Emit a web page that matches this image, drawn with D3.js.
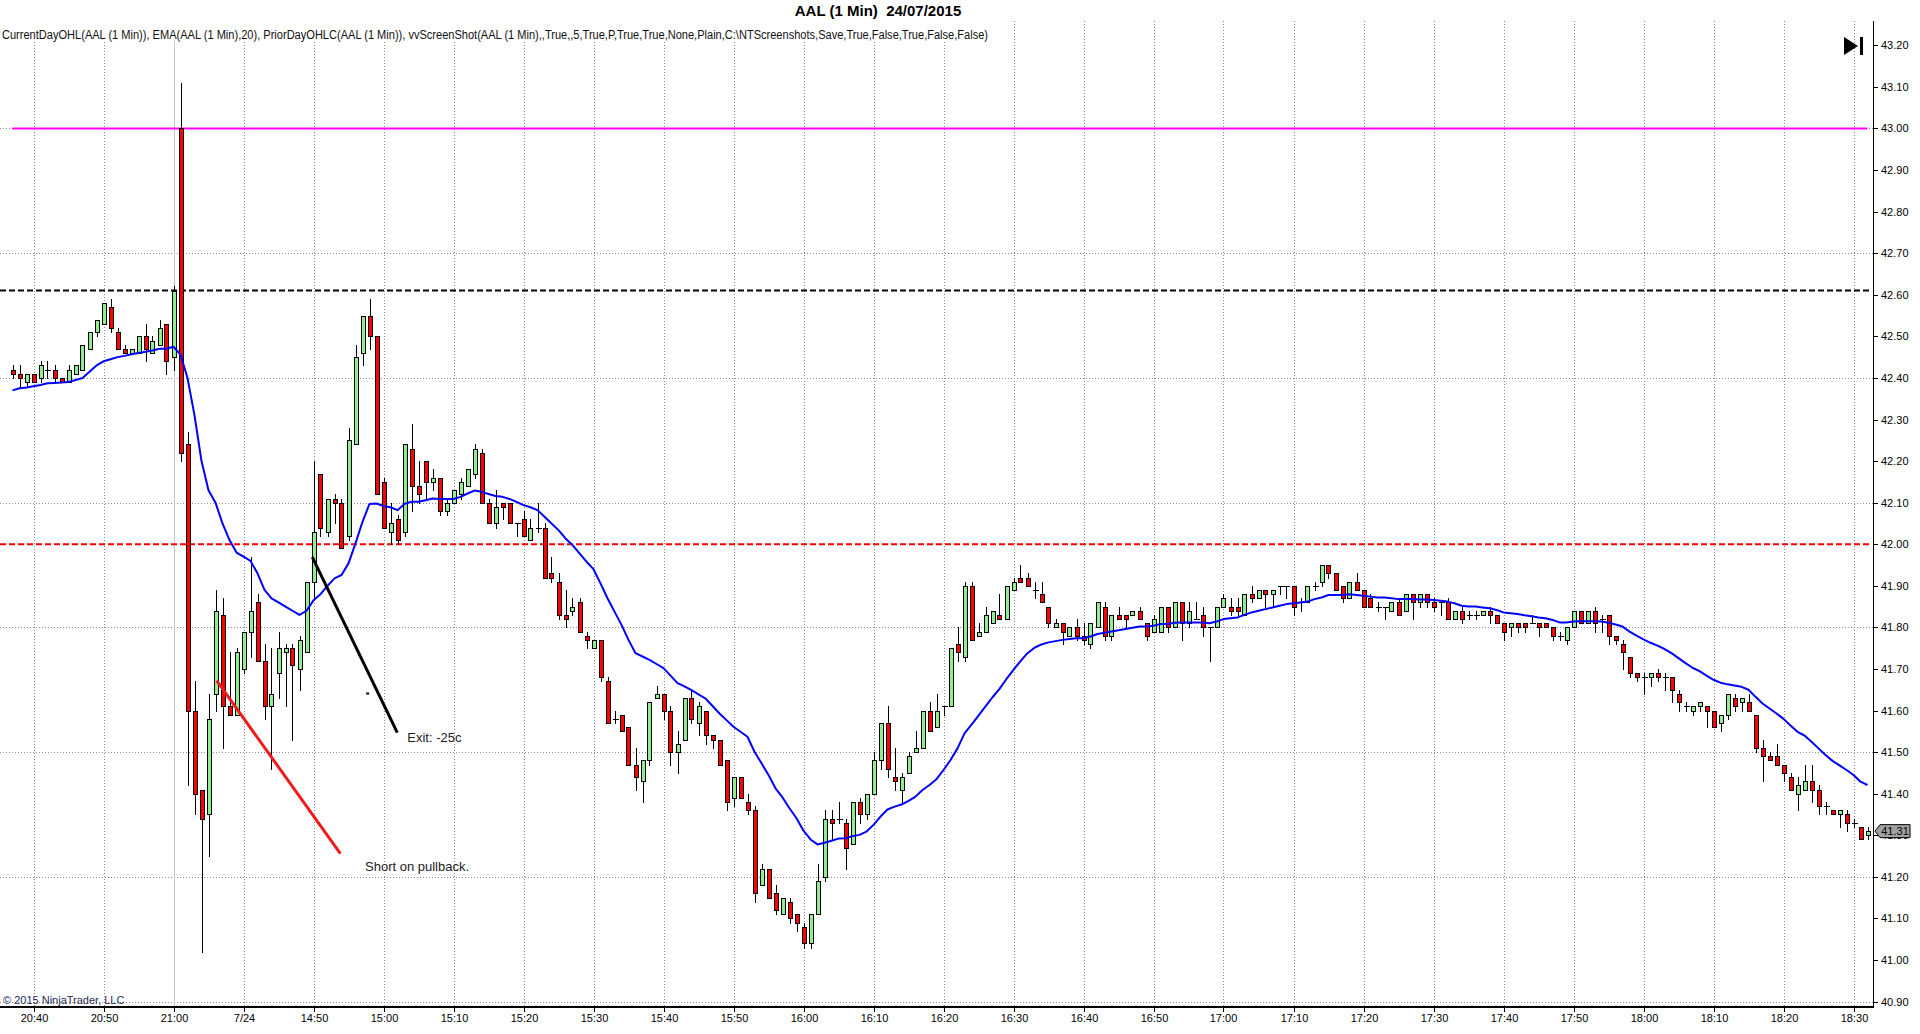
<!DOCTYPE html>
<html>
<head>
<meta charset="utf-8">
<script src="https://cdn.jsdelivr.net/npm/d3@7"></script>
<style>
  html, body { margin: 0; padding: 0; background: #fff; }
  svg { display: block; }
</style>
</head>
<body>
<script>

// AAL 1 minute bars, 23/07 20:37 - 21:00 and 24/07 14:31 - 18:32
var sessionStarts = ["20:37", "14:31"];
var sessionBars = [24, 242];
var sessionDates = ["7/23", "7/24"];

var opens = [
  42.42,42.41,42.39,42.41,42.40,42.42,42.42,42.40,42.39,42.41,
  42.42,42.47,42.51,42.53,42.57,42.51,42.47,42.46,42.46,42.50,
  42.46,42.48,42.53,42.45,43.00,42.24,41.60,41.41,41.35,41.64,
  41.83,41.61,41.59,41.70,41.79,41.86,41.72,41.61,41.69,41.74,
  41.75,41.70,41.74,41.91,42.17,42.03,42.11,42.10,42.02,42.24,
  42.46,42.55,42.50,42.15,42.03,42.06,42.03,42.23,42.14,42.20,
  42.15,42.16,42.08,42.10,42.12,42.14,42.17,42.22,42.10,42.05,
  42.10,42.10,42.05,42.06,42.01,42.04,42.04,41.93,41.91,41.83,
  41.84,41.86,41.78,41.75,41.77,41.67,41.58,41.59,41.56,41.47,
  41.43,41.48,41.63,41.64,41.60,41.50,41.53,41.63,41.57,41.60,
  41.54,41.53,41.48,41.39,41.44,41.38,41.36,41.18,41.22,41.16,
  41.11,41.14,41.11,41.08,41.04,41.11,41.20,41.34,41.34,41.33,
  41.28,41.38,41.35,41.40,41.48,41.57,41.44,41.41,41.45,41.50,
  41.51,41.60,41.56,41.61,41.61,41.76,41.73,41.90,41.78,41.79,
  41.81,41.83,41.82,41.89,41.92,41.92,41.89,41.88,41.85,41.80,
  41.81,41.78,41.80,41.78,41.76,41.80,41.85,41.78,41.83,41.83,
  41.83,41.84,41.81,41.79,41.79,41.85,41.80,41.86,41.81,41.82,
  41.83,41.80,41.80,41.85,41.85,41.85,41.83,41.88,41.87,41.89,
  41.88,41.90,41.90,41.90,41.86,41.86,41.90,41.91,41.95,41.93,
  41.90,41.87,41.91,41.89,41.87,41.85,41.85,41.84,41.86,41.84,
  41.88,41.86,41.88,41.86,41.86,41.86,41.82,41.84,41.83,41.83,
  41.83,41.84,41.83,41.81,41.80,41.81,41.81,41.81,41.81,41.81,
  41.80,41.78,41.77,41.80,41.84,41.81,41.84,41.82,41.83,41.78,
  41.76,41.73,41.69,41.68,41.68,41.69,41.68,41.68,41.64,41.61,
  41.60,41.61,41.61,41.60,41.57,41.59,41.63,41.62,41.62,41.59,
  41.51,41.49,41.49,41.47,41.44,41.40,41.41,41.43,41.41,41.37,
  41.36,41.35,41.35,41.33,41.32,41.30
];

var highs = [
  42.43,42.43,42.41,42.41,42.44,42.44,42.43,42.40,42.43,42.43,
  42.48,42.51,42.54,42.58,42.59,42.52,42.48,42.47,42.50,42.53,
  42.50,42.54,42.53,42.62,43.11,42.27,41.67,41.41,41.64,41.89,
  41.87,41.74,41.75,41.79,41.97,41.88,41.76,41.75,41.79,41.76,
  41.76,41.78,41.91,42.20,42.17,42.11,42.12,42.11,42.28,42.48,
  42.55,42.59,42.50,42.16,42.10,42.07,42.24,42.29,42.20,42.20,
  42.18,42.16,42.11,42.13,42.16,42.18,42.24,42.23,42.11,42.13,
  42.10,42.10,42.05,42.08,42.06,42.10,42.05,41.97,41.93,41.89,
  41.87,41.87,41.79,41.77,41.77,41.68,41.60,41.59,41.56,41.51,
  41.48,41.62,41.66,41.64,41.61,41.55,41.63,41.65,41.62,41.60,
  41.54,41.53,41.48,41.44,41.44,41.40,41.37,41.23,41.22,41.18,
  41.15,41.15,41.11,41.09,41.11,41.23,41.36,41.36,41.38,41.34,
  41.38,41.39,41.40,41.50,41.57,41.61,41.51,41.45,41.50,41.55,
  41.60,41.62,41.64,41.61,41.75,41.80,41.91,41.91,41.81,41.85,
  41.84,41.88,41.90,41.92,41.95,41.93,41.91,41.91,41.85,41.82,
  41.81,41.80,41.82,41.81,41.81,41.86,41.86,41.83,41.85,41.83,
  41.84,41.85,41.81,41.83,41.85,41.85,41.86,41.86,41.86,41.86,
  41.85,41.80,41.85,41.88,41.87,41.87,41.88,41.90,41.89,41.89,
  41.89,41.90,41.90,41.90,41.87,41.90,41.91,41.95,41.95,41.93,
  41.90,41.91,41.93,41.89,41.88,41.86,41.85,41.86,41.87,41.88,
  41.88,41.88,41.88,41.87,41.86,41.87,41.84,41.85,41.84,41.84,
  41.84,41.85,41.83,41.81,41.81,41.81,41.81,41.83,41.81,41.81,
  41.80,41.79,41.80,41.84,41.84,41.84,41.85,41.83,41.83,41.78,
  41.77,41.73,41.69,41.69,41.69,41.70,41.69,41.68,41.65,41.62,
  41.61,41.62,41.61,41.60,41.59,41.64,41.64,41.63,41.64,41.59,
  41.53,41.50,41.52,41.47,41.45,41.44,41.47,41.47,41.42,41.38,
  41.36,41.36,41.36,41.34,41.32,41.32
];

var lows = [
  42.40,42.38,42.38,42.39,42.39,42.40,42.39,42.39,42.39,42.41,
  42.42,42.47,42.50,42.53,42.51,42.47,42.46,42.46,42.46,42.44,
  42.46,42.48,42.41,42.42,42.20,41.42,41.35,41.02,41.25,41.60,
  41.51,41.59,41.59,41.69,41.73,41.72,41.58,41.46,41.63,41.61,
  41.53,41.65,41.74,41.87,42.02,42.02,42.05,41.99,42.01,42.24,
  42.43,42.47,42.12,42.04,42.00,42.00,42.02,42.08,42.10,42.11,
  42.13,42.07,42.07,42.10,42.11,42.14,42.16,42.10,42.05,42.04,
  42.06,42.05,42.02,42.02,42.01,42.03,41.92,41.91,41.82,41.80,
  41.83,41.79,41.75,41.75,41.67,41.57,41.57,41.55,41.47,41.41,
  41.38,41.47,41.63,41.58,41.47,41.45,41.53,41.57,41.54,41.52,
  41.51,41.47,41.36,41.37,41.39,41.35,41.14,41.18,41.15,41.11,
  41.11,41.09,41.07,41.03,41.03,41.11,41.19,41.29,41.33,41.22,
  41.28,41.33,41.34,41.40,41.46,41.44,41.41,41.38,41.45,41.50,
  41.51,41.55,41.56,41.59,41.61,41.72,41.72,41.77,41.78,41.79,
  41.81,41.82,41.82,41.89,41.91,41.90,41.87,41.86,41.80,41.80,
  41.76,41.78,41.77,41.76,41.75,41.80,41.77,41.77,41.82,41.80,
  41.83,41.82,41.77,41.79,41.79,41.79,41.80,41.77,41.80,41.82,
  41.78,41.72,41.80,41.85,41.83,41.83,41.83,41.86,41.87,41.85,
  41.85,41.88,41.87,41.83,41.84,41.86,41.89,41.90,41.92,41.89,
  41.86,41.87,41.89,41.85,41.85,41.84,41.82,41.84,41.83,41.84,
  41.82,41.85,41.85,41.84,41.83,41.82,41.82,41.81,41.82,41.82,
  41.83,41.81,41.81,41.77,41.78,41.79,41.79,41.81,41.78,41.80,
  41.77,41.77,41.76,41.80,41.81,41.81,41.79,41.79,41.76,41.76,
  41.70,41.68,41.67,41.64,41.66,41.67,41.65,41.62,41.60,41.60,
  41.59,41.60,41.56,41.56,41.55,41.58,41.60,41.60,41.60,41.50,
  41.43,41.48,41.47,41.43,41.41,41.36,41.41,41.38,41.35,41.35,
  41.35,41.32,41.31,41.32,41.29,41.29
];

var closes = [
  42.41,42.40,42.41,42.39,42.43,42.42,42.40,42.39,42.42,42.43,
  42.48,42.51,42.54,42.58,42.52,42.47,42.46,42.47,42.50,42.47,
  42.49,42.52,42.44,42.61,42.22,41.60,41.40,41.34,41.58,41.84,
  41.61,41.59,41.74,41.79,41.84,41.72,41.61,41.64,41.75,41.75,
  41.71,41.77,41.91,42.03,42.04,42.11,42.10,41.99,42.25,42.45,
  42.55,42.50,42.12,42.04,42.05,42.01,42.24,42.14,42.12,42.15,
  42.16,42.08,42.10,42.13,42.15,42.18,42.23,42.10,42.05,42.09,
  42.09,42.05,42.05,42.02,42.04,42.04,41.92,41.92,41.83,41.82,
  41.85,41.79,41.77,41.77,41.68,41.57,41.58,41.55,41.47,41.44,
  41.48,41.62,41.64,41.60,41.50,41.52,41.63,41.58,41.61,41.54,
  41.53,41.47,41.38,41.44,41.39,41.36,41.16,41.22,41.15,41.12,
  41.15,41.10,41.09,41.04,41.11,41.19,41.34,41.33,41.34,41.27,
  41.38,41.35,41.40,41.48,41.57,41.46,41.43,41.44,41.49,41.51,
  41.60,41.55,41.60,41.61,41.75,41.74,41.90,41.77,41.79,41.83,
  41.84,41.82,41.90,41.91,41.91,41.90,41.89,41.86,41.81,41.81,
  41.79,41.80,41.78,41.77,41.81,41.86,41.78,41.83,41.82,41.82,
  41.84,41.82,41.78,41.82,41.85,41.80,41.86,41.81,41.84,41.82,
  41.80,41.80,41.85,41.87,41.84,41.84,41.88,41.87,41.89,41.88,
  41.89,41.90,41.90,41.85,41.86,41.90,41.90,41.95,41.93,41.89,
  41.87,41.91,41.89,41.85,41.85,41.85,41.85,41.86,41.83,41.88,
  41.86,41.88,41.86,41.85,41.86,41.82,41.84,41.82,41.83,41.83,
  41.84,41.83,41.81,41.79,41.81,41.80,41.80,41.81,41.80,41.80,
  41.78,41.78,41.80,41.84,41.81,41.84,41.81,41.82,41.78,41.77,
  41.74,41.69,41.68,41.68,41.69,41.68,41.68,41.65,41.62,41.61,
  41.61,41.62,41.60,41.56,41.59,41.64,41.61,41.63,41.60,41.51,
  41.49,41.48,41.47,41.45,41.41,41.42,41.43,41.41,41.37,41.37,
  41.35,41.36,41.33,41.33,41.29,41.31
];

// EMA(20) as plotted
var ema = [
  42.370,42.375,42.377,42.380,42.383,42.387,42.388,42.389,42.390,42.395,
  42.400,42.415,42.430,42.440,42.445,42.450,42.453,42.457,42.460,42.463,
  42.466,42.470,42.470,42.475,42.456,42.400,42.310,42.200,42.130,42.100,
  42.050,42.010,41.980,41.970,41.960,41.930,41.890,41.870,41.860,41.850,
  41.840,41.830,41.840,41.865,41.880,41.900,41.918,41.926,41.954,42.002,
  42.054,42.097,42.098,42.092,42.089,42.082,42.097,42.102,42.102,42.106,
  42.110,42.109,42.109,42.109,42.114,42.122,42.129,42.126,42.121,42.116,
  42.114,42.109,42.102,42.094,42.089,42.082,42.066,42.050,42.034,42.014,
  41.998,41.978,41.958,41.940,41.906,41.870,41.838,41.806,41.770,41.738,
  41.730,41.722,41.712,41.702,41.684,41.666,41.658,41.649,41.639,41.629,
  41.611,41.593,41.577,41.561,41.549,41.537,41.501,41.473,41.445,41.413,
  41.391,41.365,41.341,41.311,41.290,41.278,41.282,41.287,41.292,41.293,
  41.298,41.301,41.309,41.325,41.345,41.362,41.369,41.374,41.383,41.393,
  41.409,41.421,41.435,41.457,41.481,41.509,41.545,41.566,41.588,41.610,
  41.632,41.652,41.676,41.698,41.719,41.738,41.751,41.759,41.764,41.767,
  41.770,41.772,41.774,41.774,41.778,41.784,41.787,41.790,41.793,41.796,
  41.799,41.802,41.802,41.804,41.808,41.808,41.811,41.812,41.812,41.812,
  41.812,41.810,41.814,41.820,41.822,41.824,41.830,41.836,41.840,41.844,
  41.848,41.852,41.856,41.858,41.860,41.862,41.868,41.872,41.878,41.878,
  41.878,41.880,41.878,41.876,41.874,41.872,41.872,41.870,41.868,41.868,
  41.868,41.867,41.867,41.866,41.864,41.862,41.858,41.852,41.850,41.850,
  41.848,41.846,41.842,41.836,41.834,41.832,41.829,41.827,41.824,41.822,
  41.818,41.812,41.812,41.814,41.815,41.815,41.815,41.814,41.811,41.807,
  41.802,41.790,41.780,41.771,41.763,41.756,41.748,41.738,41.726,41.714,
  41.703,41.695,41.684,41.674,41.667,41.663,41.660,41.657,41.650,41.633,
  41.617,41.605,41.593,41.580,41.564,41.549,41.540,41.525,41.509,41.493,
  41.479,41.468,41.457,41.445,41.429,41.421
];

// current day open, prior day close, prior day low
var levelPrices = [43.00, 42.61, 42.00];

var priceTicks = [40.9, 41.0, 41.1, 41.2, 41.3, 41.4, 41.5, 41.6, 41.7, 41.8, 41.9, 42.0,
  42.1, 42.2, 42.3, 42.4, 42.5, 42.6, 42.7, 42.8, 42.9, 43.0, 43.1, 43.2];
var gridPrices = [40.9, 41.2, 41.5, 41.8, 42.1, 42.4, 42.7, 43.0];

// hand drawn trade marks, in [bar, price]
var shortLine = [[29.17, 41.672], [46.84, 41.256]];
var exitLine = [[42.83, 41.969], [54.97, 41.547]];
var exitDot = [50.74, 41.641];
var noteTexts = ["Short on pullback.", "Exit: -25c"];
var notePoints = [[50.36, 41.213], [56.4, 41.525]];

var titleText = "AAL (1 Min)  24/07/2015";
var indicatorText = "CurrentDayOHL(AAL (1 Min)), EMA(AAL (1 Min),20), PriorDayOHLC(AAL (1 Min)), vvScreenShot(AAL (1 Min),,True,,5,True,P,True,True,None,Plain,C:\\NTScreenshots,Save,True,False,True,False,False)";
var copyrightText = "\u00a9 2015 NinjaTrader, LLC";

// bar times and axis ticks
var barTimes = [], barSession = [];
sessionStarts.forEach(function (s, k) {
  var p = s.split(":"), m = +p[0] * 60 + +p[1];
  for (var j = 0; j < sessionBars[k]; j++) {
    barTimes.push(m + j);
    barSession.push(k);
  }
});
var tickBars = [], tickLabels = [], seen = {};
barTimes.forEach(function (m, i) {
  if (m % 10 !== 0) return;
  var k = barSession[i];
  var lab = d3.format("02")(Math.floor(m / 60)) + ":" + d3.format("02")(m % 60);
  if (k > 0 && !seen[k]) lab = sessionDates[k];
  seen[k] = true;
  tickBars.push(i);
  tickLabels.push(lab);
});
var breakBars = [];
sessionBars.reduce(function (acc, n, k) {
  if (k < sessionBars.length - 1) breakBars.push(acc + n - 1);
  return acc + n;
}, 0);

var plotTop = 21, plotRight = 1873, plotBottom = 1006.5;
var last = closes.length - 1;

var svg = d3.select("body").append("svg")
  .attr("width", 1920)
  .attr("height", 1034)
  .style("font-family", "'Liberation Sans', Arial, sans-serif");

var x = d3.scaleLinear().domain([0, last]).range([12.5, 12.5 + 7 * last]);
var y = d3.scaleLinear().domain([40.9, 43.2]).range([1001.6, 45.3]);
function px(i) { return Math.round(x(i)) + 0.5; }
function py(v) { return Math.round(y(v)) + 0.5; }

// grid
var grid = svg.append("g").attr("shape-rendering", "crispEdges");
grid.selectAll("line.h").data(gridPrices).enter().append("line")
  .attr("class", "h")
  .attr("x1", 0).attr("x2", plotRight)
  .attr("y1", py).attr("y2", py)
  .attr("stroke", "#8a8a8a")
  .attr("stroke-dasharray", "1,2");
grid.selectAll("line.v").data(tickBars.filter(function (i) { return breakBars.indexOf(i) < 0; }))
  .enter().append("line")
  .attr("class", "v")
  .attr("x1", px).attr("x2", px)
  .attr("y1", plotTop).attr("y2", plotBottom)
  .attr("stroke", "#8a8a8a")
  .attr("stroke-dasharray", "1,2");
grid.selectAll("line.brk").data(breakBars).enter().append("line")
  .attr("class", "brk")
  .attr("x1", px).attr("x2", px)
  .attr("y1", plotTop).attr("y2", plotBottom)
  .attr("stroke", "#c4c4c4");

// indicator label strip
svg.append("rect")
  .attr("x", 0).attr("y", plotTop)
  .attr("width", 992).attr("height", 19.5)
  .attr("fill", "#fff");
svg.append("text")
  .attr("x", 2).attr("y", 39.3)
  .attr("font-size", 12)
  .attr("textLength", 986)
  .attr("lengthAdjust", "spacingAndGlyphs")
  .attr("fill", "#111")
  .text(indicatorText);

svg.append("text")
  .attr("x", 878).attr("y", 15.7)
  .attr("text-anchor", "middle")
  .attr("font-size", 15)
  .attr("font-weight", "bold")
  .style("white-space", "pre")
  .attr("fill", "#000")
  .text(titleText);

// prior / current day levels
svg.append("line")
  .attr("x1", x(0)).attr("x2", x(last))
  .attr("y1", y(levelPrices[0])).attr("y2", y(levelPrices[0]))
  .attr("stroke", "#ff00ff").attr("stroke-width", 2);
svg.append("line")
  .attr("x1", 0).attr("x2", plotRight - 2)
  .attr("y1", y(levelPrices[1])).attr("y2", y(levelPrices[1]))
  .attr("stroke", "#000").attr("stroke-width", 2)
  .attr("stroke-dasharray", "6,3");
svg.append("line")
  .attr("x1", 0).attr("x2", plotRight - 2)
  .attr("y1", y(levelPrices[2])).attr("y2", y(levelPrices[2]))
  .attr("stroke", "#ff0000").attr("stroke-width", 2)
  .attr("stroke-dasharray", "6,3");

// candles
var bars = closes.map(function (c, i) {
  return { i: i, o: opens[i], h: highs[i], l: lows[i], c: c };
});
var cg = svg.append("g").attr("shape-rendering", "crispEdges");
cg.selectAll("line.wick").data(bars).enter().append("line")
  .attr("class", "wick")
  .attr("x1", function (d) { return px(d.i); })
  .attr("x2", function (d) { return px(d.i); })
  .attr("y1", function (d) { return Math.round(y(d.h)); })
  .attr("y2", function (d) { return Math.round(y(d.l)) + 1; })
  .attr("stroke", "#000");
cg.selectAll("rect.body").data(bars.filter(function (d) { return d.o !== d.c; }))
  .enter().append("rect")
  .attr("class", "body")
  .attr("x", function (d) { return px(d.i) - 2; })
  .attr("y", function (d) { return py(Math.max(d.o, d.c)); })
  .attr("width", 4)
  .attr("height", function (d) {
    return Math.max(1, Math.round(y(Math.min(d.o, d.c))) - Math.round(y(Math.max(d.o, d.c))));
  })
  .attr("fill", function (d) { return d.c > d.o ? "#90ee90" : "#ff0000"; })
  .attr("stroke", "#000");
cg.selectAll("line.doji").data(bars.filter(function (d) { return d.o === d.c; }))
  .enter().append("line")
  .attr("class", "doji")
  .attr("x1", function (d) { return px(d.i) - 2.5; })
  .attr("x2", function (d) { return px(d.i) + 3; })
  .attr("y1", function (d) { return py(d.c); })
  .attr("y2", function (d) { return py(d.c); })
  .attr("stroke", "#000");

// EMA
svg.append("path")
  .datum(ema)
  .attr("fill", "none")
  .attr("stroke", "#0000ff")
  .attr("stroke-width", 2)
  .attr("stroke-linejoin", "round")
  .attr("d", d3.line()
    .x(function (d, i) { return x(i); })
    .y(function (d) { return y(d); }));

// trade marks
var seg = d3.line()
  .x(function (d) { return x(d[0]); })
  .y(function (d) { return y(d[1]); });
svg.append("path").attr("d", seg(shortLine))
  .attr("stroke", "#ee1c1c").attr("stroke-width", 3).attr("fill", "none");
svg.append("path").attr("d", seg(exitLine))
  .attr("stroke", "#000").attr("stroke-width", 3).attr("fill", "none");
svg.append("rect")
  .attr("x", x(exitDot[0]) - 1.5).attr("y", y(exitDot[1]) - 1)
  .attr("width", 3).attr("height", 2)
  .attr("fill", "#000");
svg.selectAll("text.note").data(noteTexts).enter().append("text")
  .attr("class", "note")
  .attr("x", function (d, k) { return x(notePoints[k][0]); })
  .attr("y", function (d, k) { return y(notePoints[k][1]); })
  .attr("font-size", 13)
  .attr("fill", "#222")
  .text(function (d) { return d; });

// price axis
var yAxis = svg.append("g")
  .attr("transform", "translate(" + plotRight + ",0)")
  .attr("shape-rendering", "crispEdges")
  .call(d3.axisRight(y)
    .tickValues(priceTicks)
    .tickSize(5)
    .tickPadding(3)
    .tickFormat(d3.format(".2f")));
yAxis.select(".domain").remove();
yAxis.selectAll("text").attr("font-size", 11).attr("font-family", "'Liberation Sans', Arial, sans-serif").attr("fill", "#000");
svg.append("line")
  .attr("x1", plotRight + 0.5).attr("x2", plotRight + 0.5)
  .attr("y1", plotTop).attr("y2", plotBottom)
  .attr("stroke", "#000").attr("shape-rendering", "crispEdges");

// time axis
var xAxis = svg.append("g")
  .attr("transform", "translate(0," + plotBottom + ")")
  .attr("shape-rendering", "crispEdges")
  .call(d3.axisBottom(x)
    .tickValues(tickBars)
    .tickSize(5)
    .tickPadding(3)
    .tickFormat(function (d, k) { return tickLabels[k]; }));
xAxis.select(".domain").remove();
xAxis.selectAll(".tick").attr("transform", function (d) { return "translate(" + px(d) + ",0)"; });
xAxis.selectAll("text").attr("font-size", 11).attr("font-family", "'Liberation Sans', Arial, sans-serif").attr("fill", "#000");
svg.append("line")
  .attr("x1", 0).attr("x2", plotRight + 1)
  .attr("y1", plotBottom).attr("y2", plotBottom)
  .attr("stroke", "#000").attr("stroke-width", 2).attr("shape-rendering", "crispEdges");

svg.append("text")
  .attr("x", 3).attr("y", 1004)
  .attr("font-size", 11)
  .attr("fill", "#1f2a5a")
  .text(copyrightText);

// last price marker
var ly = y(closes[last]);
svg.append("path")
  .attr("d", "M" + (plotRight + 2) + "," + ly + "L" + (plotRight + 7) + "," + (ly - 6.5) +
    "H" + (plotRight + 37) + "V" + (ly + 6.5) + "H" + (plotRight + 7) + "Z")
  .attr("fill", "#a0a0a0")
  .attr("stroke", "#000");
svg.append("text")
  .attr("x", plotRight + 22).attr("y", ly + 4)
  .attr("text-anchor", "middle")
  .attr("font-size", 11)
  .attr("fill", "#000")
  .text(d3.format(".2f")(closes[last]));

// scroll-to-end button
svg.append("path")
  .attr("d", "M1844,37 L1844,55 L1858,46 Z")
  .attr("fill", "#000");
svg.append("rect")
  .attr("x", 1860).attr("y", 37)
  .attr("width", 3).attr("height", 18)
  .attr("fill", "#000");

</script>
</body>
</html>
